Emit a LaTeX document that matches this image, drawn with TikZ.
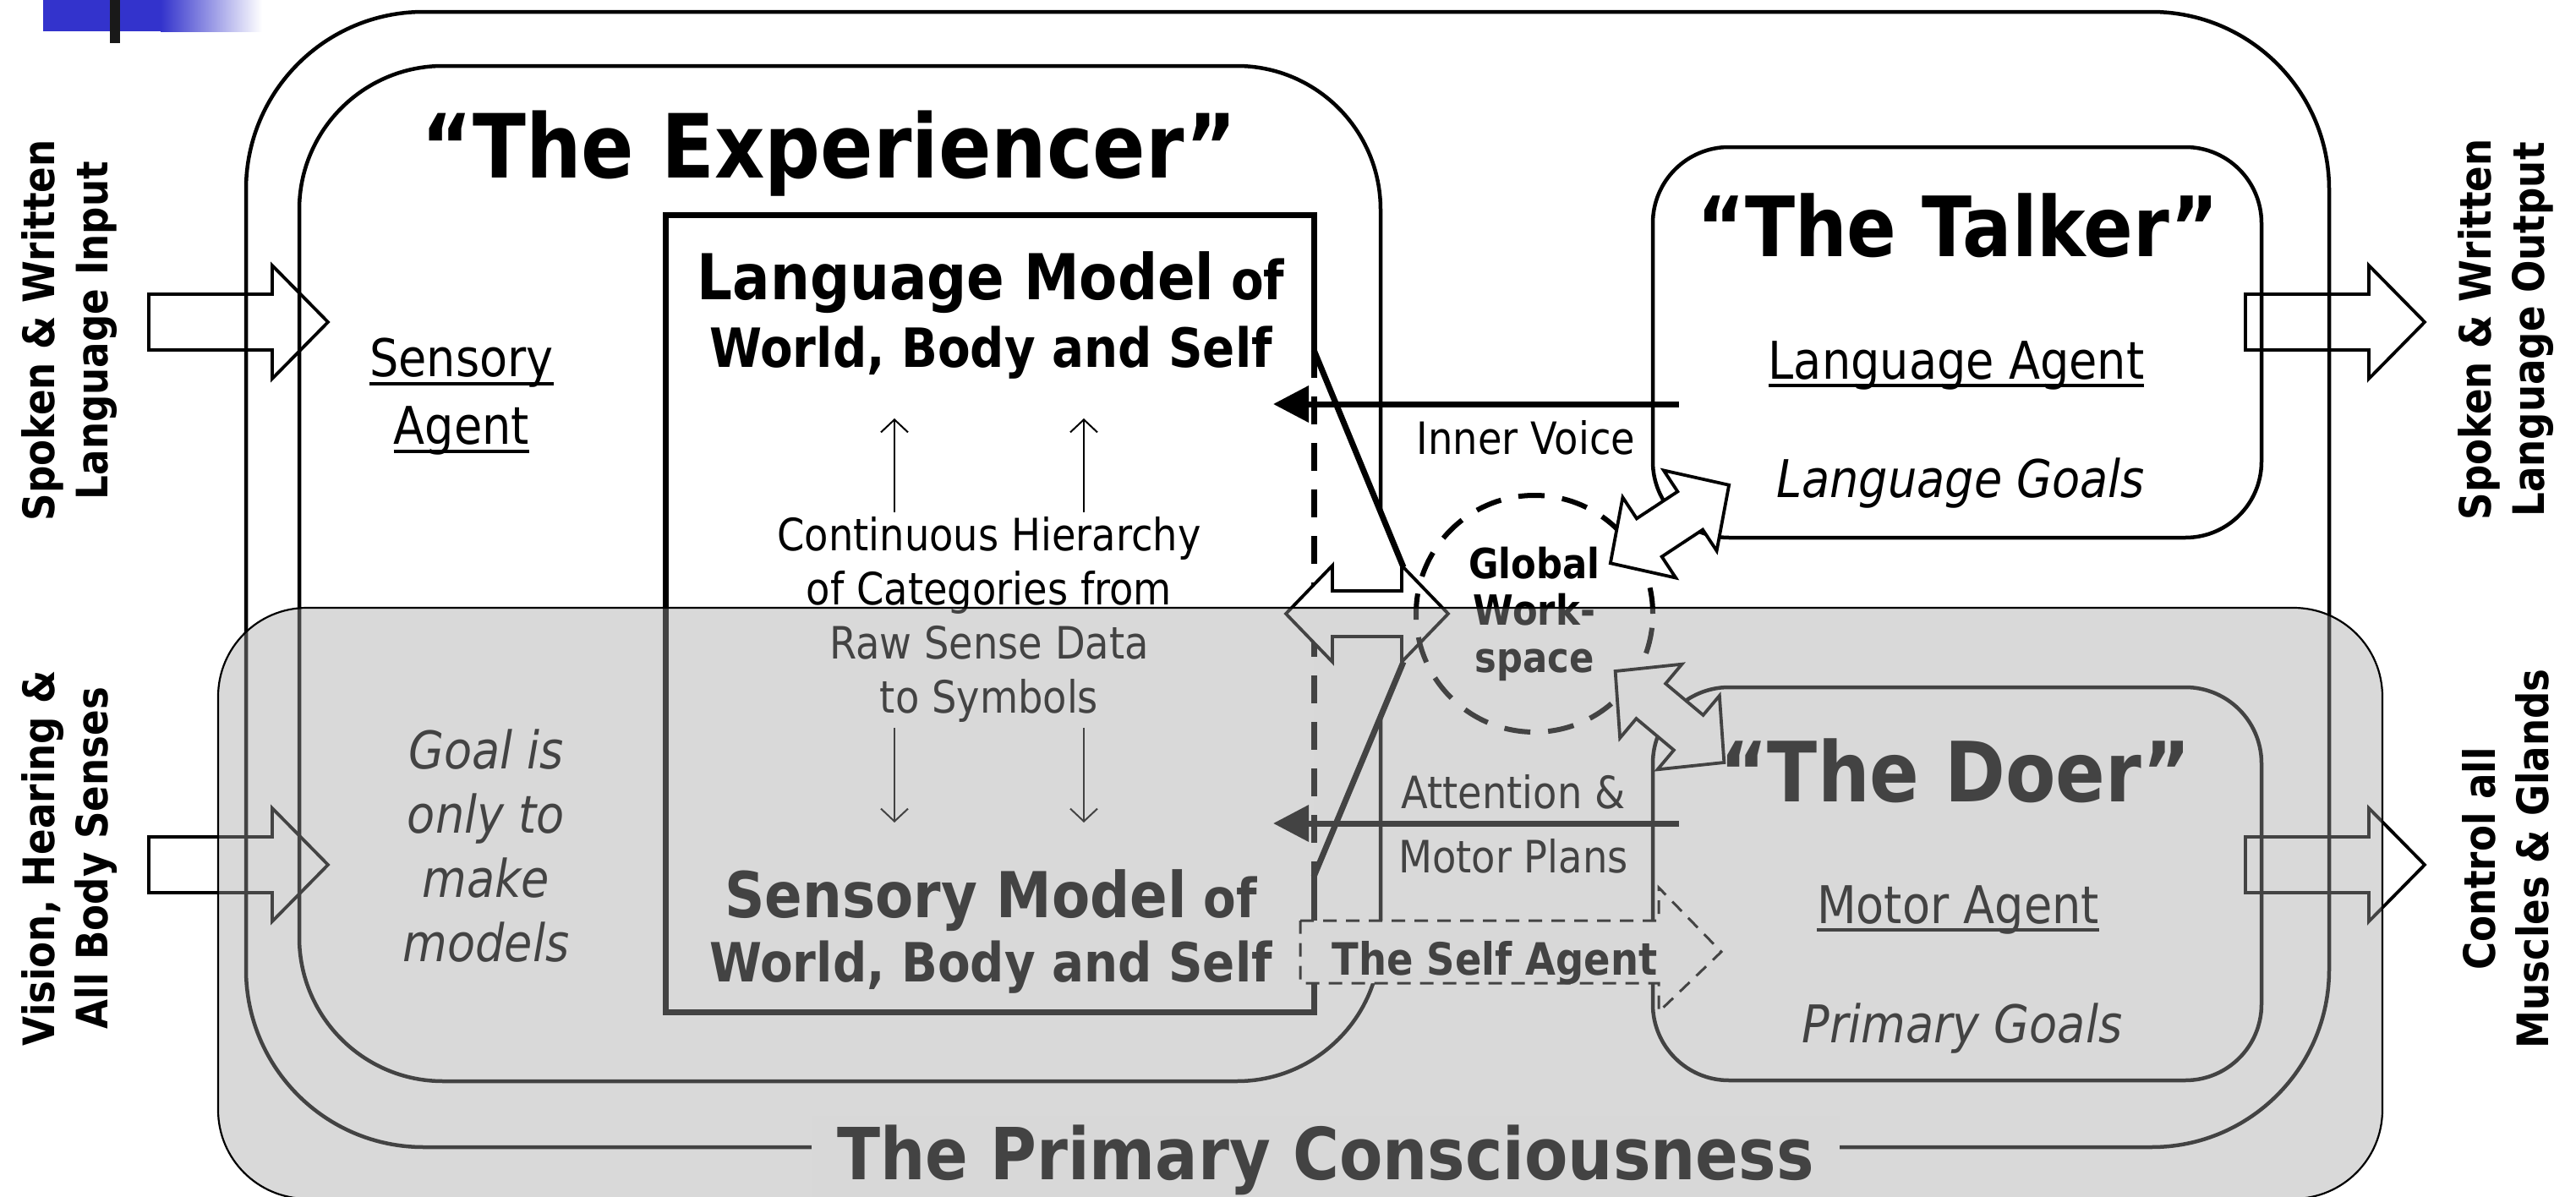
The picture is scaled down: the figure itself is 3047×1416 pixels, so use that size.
\documentclass[tikz,border=0pt]{standalone}
\usepackage{fontspec}
\setmainfont{DejaVu Sans}[FakeStretch=0.88]
\usetikzlibrary{arrows.meta,calc}

\definecolor{barblue}{RGB}{51,51,204}
\definecolor{veil}{RGB}{163,163,163}

\newcommand{\undl}[1]{\setbox0\hbox{#1}\rlap{\rule[-0.17em]{\wd0}{0.07em}}\box0}

\tikzset{
  roundbox/.style={line width=0.45mm, rounded corners=#1},
  heavyline/.style={line width=0.7mm},
  blockarrow/.style={line width=0.38mm},
  title/.style={font=\bfseries\fontsize{28}{34}\selectfont, inner sep=0pt},
  modeltext/.style={font=\bfseries\fontsize{18.2}{22}\selectfont, inner sep=0pt},
  agenttext/.style={font=\fontsize{17.5}{22.8}\selectfont, inner sep=0pt, align=center},
  hiertext/.style={font=\fontsize{15}{18.2}\selectfont, inner sep=0pt, align=center},
  sidelabel/.style={font=\bfseries\fontsize{14.6}{17.9}\selectfont, align=center, rotate=90, inner sep=0pt},
  pics/dblarrow/.style={code={
    \draw[pic actions] (-#1,0) -- ({-#1+55},57) -- ({-#1+55},27) -- ({#1-55},27)
      -- ({#1-55},57) -- (#1,0) -- ({#1-55},-57) -- ({#1-55},-27)
      -- ({-#1+55},-27) -- ({-#1+55},-57) -- cycle;
  }},
  pics/bigarrow/.style={code={
    \draw[pic actions] (0,-33) -- (146,-33) -- (146,-67) -- (212,0) -- (146,67)
      -- (146,33) -- (0,33) -- cycle;
  }},
}

\begin{document}
\begin{tikzpicture}[x=0.1mm,y=-0.1mm]
\useasboundingbox (0,0) rectangle (3047,1416);
\clip (0,0) rectangle (3047,1416);

% corner decoration
\fill[barblue] (51,0) rectangle (190,37);
\shade[left color=barblue, right color=white] (190,0) rectangle (310,37);
\fill[black!90] (130,0) rectangle (142,51);

% frames
\draw[roundbox=21mm] (291,14) rectangle (2755,1357);
\draw[roundbox=17mm] (354,78) rectangle (1633,1279);
\draw[roundbox=9mm] (1955,174) rectangle (2675,636);
\draw[roundbox=9mm] (1955,813) rectangle (2675,1278);

% inputs and outputs
\pic[blockarrow] at (176,381) {bigarrow};
\pic[blockarrow] at (176,1023) {bigarrow};
\pic[blockarrow] at (2656,381) {bigarrow};
\pic[blockarrow] at (2656,1023) {bigarrow};

% the model box with its slab
\coordinate (m1) at (1554,414);
\coordinate (m2) at (1660,671);
\coordinate (m3) at (1660,783);
\coordinate (m4) at (1554,1037);
\draw[heavyline, line join=miter] (m1) -- (1554,254) -- (787,254) -- (787,1197)
  -- (1554,1197) -- (m4);
\fill[white] (m1) -- (m2) -- (m3) -- (m4) -- cycle;
\draw[heavyline, dash pattern=on 3.3mm off 2.2mm] (m1) -- (m4);
\draw[heavyline] (m1) -- (m2);
\draw[heavyline] (m3) -- (m4);
\pic[draw, fill=white, blockarrow] at (1617,726) {dblarrow=96};

% global workspace
\node[circle, draw, line width=0.6mm, dash pattern=on 3.1mm off 2.1mm,
  minimum size=28mm, inner sep=0pt, align=center,
  font=\bfseries\fontsize{14}{15.8}\selectfont] (gw) at (1815,726) {Global\\Work-\\space};
\pic[draw, fill=white, blockarrow, rotate=33.4] at (1975,620) {dblarrow=84};
\pic[draw, fill=white, blockarrow, rotate=-40] at (1975,848) {dblarrow=84};

% inner voice and attention
\coordinate (iv1) at (1986,478);
\coordinate (iv2) at (1506,478);
\coordinate (at1) at (1986,974);
\coordinate (at2) at (1506,974);
\draw[heavyline, -{Triangle[length=4.2mm,width=4.2mm]}] (iv1) -- (iv2);
\draw[heavyline, -{Triangle[length=4.2mm,width=4.2mm]}] (at1) -- (at2);

% hierarchy arrows
\foreach \x in {1058,1282} {
  \draw[line width=0.2mm, -{Straight Barb[length=1.5mm,width=3.2mm]}] (\x,606) -- (\x,495);
  \draw[line width=0.2mm, -{Straight Barb[length=1.5mm,width=3.2mm]}] (\x,861) -- (\x,973);
}

% self agent
\draw[line width=0.3mm, dash pattern=on 1.6mm off 1.1mm, fill=white]
  (1538,1089) -- (1962,1089) -- (1962,1050) -- (2036,1126) -- (1962,1197)
  -- (1962,1163) -- (1538,1163) -- cycle;
\node[font=\bfseries\fontsize{15}{18}\selectfont, inner sep=0pt, anchor=base] (self) at (1768,1153) {The Self Agent};

% texts
\node[title, anchor=base, font=\bfseries\fontsize{29.8}{34}\selectfont] (exp) at (981,210) {“The Experiencer”};
\node[title, anchor=base] (talk) at (2316,303) {“The Talker”};
\node[title, anchor=base] (doer) at (2313,948) {“The Doer”};

\node[modeltext, anchor=base] (lm1) at (1172,354) {{\fontsize{21.3}{24}\selectfont Language Model} of};
\node[modeltext, anchor=base] (lm2) at (1172,434) {World, Body and Self};
\node[modeltext, anchor=base] (sm1) at (1172,1085) {{\fontsize{21.3}{24}\selectfont Sensory Model} of};
\node[modeltext, anchor=base] (sm2) at (1172,1161) {World, Body and Self};
\node[hiertext, anchor=north] (hier) at (1170,611) {Continuous Hierarchy\\of Categories from\\Raw Sense Data\\to Symbols};

\node[agenttext, anchor=north] (sens) at (546,399) {\undl{Sensory}\\\undl{Agent}};
\node[agenttext, anchor=north, font=\itshape\fontsize{17.5}{21.6}\selectfont] (goal) at (575,862) {Goal is\\only to\\make\\models};
\node[agenttext, anchor=base] (lang) at (2314,448) {\undl{Language Agent}};
\node[agenttext, anchor=base, font=\itshape\fontsize{17.5}{22}\selectfont] (lgoal) at (2319,588) {Language Goals};
\node[agenttext, anchor=base] (motor) at (2316,1092) {\undl{Motor Agent}};
\node[agenttext, anchor=base, font=\itshape\fontsize{17.5}{22}\selectfont] (pgoal) at (2321,1233) {Primary Goals};

\node[hiertext, anchor=base] (inner) at (1805,537) {Inner Voice};
\node[hiertext, anchor=base] (att1) at (1790,956) {Attention \&};
\node[hiertext, anchor=base] (att2) at (1790,1032) {Motor Plans};

\node[sidelabel] (inlang) at (82,391) {Spoken \& Written\\Language Input};
\node[sidelabel] (insense) at (82,1015) {Vision, Hearing \&\\All Body Senses};
\node[sidelabel] (outlang) at (2964,390) {Spoken \& Written\\Language Output};
\node[sidelabel] (outmotor) at (2964,1016) {Control all\\Muscles \& Glands};

\node[font=\bfseries\fontsize{24.2}{28}\selectfont, fill=white, inner xsep=3mm, inner ysep=1mm, anchor=base] (prim) at (1568,1395) {The Primary Consciousness};

% primary consciousness veil
\draw[line width=0.22mm, fill=veil, fill opacity=0.416, rounded corners=10.5mm] (258,719) rectangle (2818,1418);
\end{tikzpicture}
\end{document}
